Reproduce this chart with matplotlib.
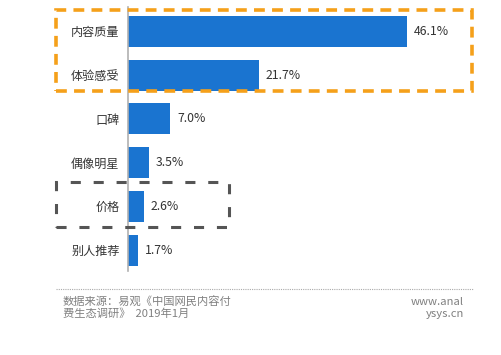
import matplotlib.pyplot as plt
from matplotlib.patches import Rectangle
from matplotlib.lines import Line2D

plt.rcParams['font.family'] = ['Noto Sans CJK SC', 'DejaVu Sans']

# data
categories = ['内容质量', '体验感受', '口碑', '偶像明星', '价格', '别人推荐']
values = [46.1, 21.7, 7.0, 3.5, 2.6, 1.7]
value_labels = ['46.1%', '21.7%', '7.0%', '3.5%', '2.6%', '1.7%']

W, H = 502, 355
fig = plt.figure(figsize=(W / 100, H / 100), dpi=100)


def fx(px):
    return px / W


def fy(py):
    return 1 - py / H


# axes: left edge at the axis line, top/bottom where the line ends
ax = fig.add_axes([fx(128), fy(271), fx(472 - 128), (271 - 7) / H])
pos = list(range(len(categories)))
ax.barh(pos, values, height=0.71, color='#1a74d0')
ax.set_xlim(0, (472 - 128) / 6.05)
ax.set_ylim(5.48, -0.56)

for p, v, t in zip(pos, values, value_labels):
    ax.text(v + 1.1, p, t, va='center', ha='left', fontsize=8.8, color='#333333')

ax.set_yticks(pos)
ax.set_yticklabels(categories, fontsize=8.7, color='#333333')
ax.tick_params(axis='y', length=0, pad=6)
ax.set_xticks([])
for s in ['top', 'right', 'bottom']:
    ax.spines[s].set_visible(False)
ax.spines['left'].set_color('#b0b0b0')
ax.spines['left'].set_linewidth(1.2)

# highlight boxes
fig.add_artist(Rectangle((fx(56), fy(91)), fx(472 - 56), (91 - 10) / H,
                         transform=fig.transFigure, fill=False,
                         edgecolor='#f5a01a', linewidth=2.6,
                         linestyle=(0, (3.0, 2.0))))
fig.add_artist(Rectangle((fx(56), fy(227)), fx(229 - 56), (227 - 182) / H,
                         transform=fig.transFigure, fill=False,
                         edgecolor='#555555', linewidth=2.2,
                         linestyle=(0, (3.3, 4.2))))

# footer
fig.add_artist(Line2D([fx(56), fx(473)], [fy(289), fy(289)],
                      transform=fig.transFigure, color='#aaaaaa',
                      linewidth=0.8, linestyle=(0, (1, 1))))
fig.text(fx(63), fy(302), '数据来源：易观《中国网民内容付', fontsize=8.1,
         color='#808080', va='center', ha='left')
fig.text(fx(63), fy(314), '费生态调研》  2019年1月', fontsize=8.1,
         color='#808080', va='center', ha='left')
fig.text(fx(464), fy(302), 'www.anal', fontsize=8.1,
         color='#808080', va='center', ha='right')
fig.text(fx(464), fy(314), 'ysys.cn', fontsize=8.1,
         color='#808080', va='center', ha='right')

fig.savefig('out.png', dpi=100, facecolor='white')
